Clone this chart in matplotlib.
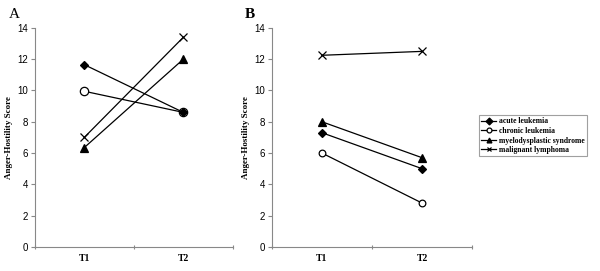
import matplotlib

matplotlib.use("Agg")
import matplotlib.pyplot as plt

# Data
timepoints = ["T1", "T2"]
series_names = ["acute leukemia", "chronic leukemia", "myelodysplastic syndrome", "malignant lymphoma"]
panel_a_acute = [11.65, 8.6]
panel_a_chronic = [9.95, 8.6]
panel_a_mds = [6.35, 12.0]
panel_a_lymphoma = [7.0, 13.4]
panel_b_acute = [7.3, 5.0]
panel_b_chronic = [6.0, 2.8]
panel_b_mds = [8.0, 5.7]
panel_b_lymphoma = [12.25, 12.5]

markers = ["D", "o", "^", "x"]
marker_sizes = [4.5, 6, 6, 6]
z_order = [4, 3, 3, 3]
serif = ["Liberation Serif", "DejaVu Serif"]
sans = ["Liberation Sans", "DejaVu Sans"]

fig = plt.figure(figsize=(6.0, 2.71), dpi=100)
ax_a = fig.add_axes([0.058, 0.089, 0.330, 0.808])
ax_b = fig.add_axes([0.453, 0.089, 0.334, 0.808])


def draw_panel(ax, values, small=False):
    x = range(len(timepoints))
    lines = []
    for name, vals, m, ms, z in zip(series_names, values, markers, marker_sizes, z_order):
        size = ms - 1.2 if (small and m == "o") else ms
        face = "white" if m == "o" else "black"
        (ln,) = ax.plot(x, vals, color="black", lw=0.9, marker=m, markersize=size,
                        markerfacecolor=face, markeredgecolor="black", markeredgewidth=0.9,
                        label=name, zorder=z)
        lines.append(ln)
    ax.set_xlim(-0.5, 1.5)
    ax.set_ylim(0, 14)
    ax.set_yticks(range(0, 15, 2))
    ax.set_xticks([-0.5, 0.5, 1.5])
    ax.set_xticklabels([])
    ax.set_xticks([0, 1], minor=True)
    ax.set_xticklabels(timepoints, minor=True, fontsize=7, fontweight="bold", family=serif)
    ax.tick_params(axis="x", which="minor", length=0, pad=5)
    ax.tick_params(axis="x", which="major", length=3, direction="inout", color="#888888")
    ax.tick_params(axis="y", length=3, color="#888888", labelsize=7, pad=2)
    for lab in ax.get_yticklabels():
        lab.set_family(sans)
    for side in ("top", "right"):
        ax.spines[side].set_visible(False)
    for side in ("left", "bottom"):
        ax.spines[side].set_color("#888888")
        ax.spines[side].set_linewidth(0.8)
    ax.set_ylabel("Anger-Hostility Score", fontsize=6.5, fontweight="bold", family=serif, labelpad=3)
    return lines


draw_panel(ax_a, [panel_a_acute, panel_a_chronic, panel_a_mds, panel_a_lymphoma])
lines_b = draw_panel(ax_b, [panel_b_acute, panel_b_chronic, panel_b_mds, panel_b_lymphoma], small=True)

fig.text(0.015, 0.945, "A", fontsize=11, family=serif, va="center")
fig.text(0.408, 0.945, "B", fontsize=11, fontweight="bold", family=serif, va="center")

leg = fig.legend(handles=lines_b, loc="upper left", bbox_to_anchor=(0.798, 0.575),
                 prop={"family": serif, "weight": "bold", "size": 5.5},
                 frameon=True, fancybox=False, edgecolor="#888888", handlelength=2.0,
                 handletextpad=0.3, borderpad=0.3, labelspacing=0.2, borderaxespad=0)
leg.get_frame().set_linewidth(0.8)
for h in leg.legend_handles:
    h.set_markersize(3.5)

fig.savefig("out.png", dpi=100)
